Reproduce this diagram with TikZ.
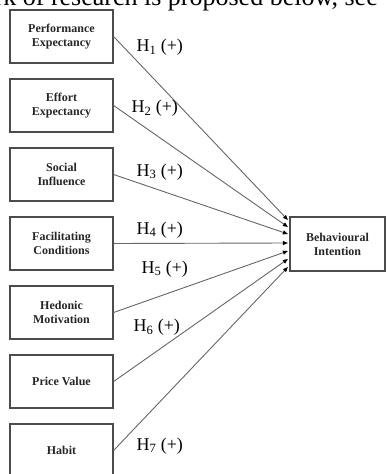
\documentclass[tikz,border=0pt]{standalone}
\usepackage{fontspec}
\setmainfont{Liberation Serif}
\usetikzlibrary{arrows.meta, calc}

\begin{document}
\begin{tikzpicture}[
    x=1pt, y=-1pt,
    construct/.style={draw=black!70, line width=1.2pt, minimum width=103pt, minimum height=53pt, inner sep=2pt, align=center, text=black!85, font=\bfseries\fontsize{12}{14}\selectfont},
    hyp/.style={anchor=base west, font=\fontsize{18}{20}\selectfont},
    arr/.style={-{Triangle[length=5pt, width=4pt, color=black]}, draw=black!60, line width=0.9pt}
]
\useasboundingbox (0,0) rectangle (386,474);
\clip (0,0) rectangle (386,474);

% Cut-off line of running text
\node[anchor=base east, font=\fontsize{26}{28}\selectfont, inner sep=0pt] (hdr) at (378,5) {framework of research is proposed below, see};

% Constructs (top to bottom)
\node[construct] (pe) at (61.5, 36.5) {Performance\\Expectancy};
\node[construct] (ee) at (61.5, 105.5) {Effort\\Expectancy};
\node[construct] (si) at (61.5, 174.5) {Social\\Influence};
\node[construct] (fc) at (61.5, 243.5) {Facilitating\\Conditions};
\node[construct] (hm) at (61.5, 312.5) {Hedonic\\Motivation};
\node[construct] (pv) at (61.5, 381.5) {Price Value};
\node[construct] (hb) at (61.5, 450.5) {Habit};

% Outcome
\node[construct, minimum width=95pt, minimum height=54pt] (bi) at (337.5, 244) {Behavioural\\Intention};

% Arrow tips along the left side of the outcome
\foreach \i/\dy in {1/-24, 2/-17, 3/-10, 4/-1, 5/7, 6/15, 7/23} {
    \coordinate (tip\i) at ($(bi.west)+(-1.5,\dy)$);
}

% Hypothesised paths
\foreach \src/\i in {pe/1, ee/2, si/3, fc/4, hm/5, pv/6, hb/7} {
    \draw[arr] (\src.east) -- (tip\i);
}

% Path labels
\node[hyp] (h1) at (133, 51.7) {H\textsubscript{1} (+)};
\node[hyp] (h2) at (128, 112.7) {H\textsubscript{2} (+)};
\node[hyp] (h3) at (133, 176) {H\textsubscript{3} (+)};
\node[hyp] (h4) at (133, 234) {H\textsubscript{4} (+)};
\node[hyp] (h5) at (138, 273) {H\textsubscript{5} (+)};
\node[hyp] (h6) at (130, 331.7) {H\textsubscript{6} (+)};
\node[hyp] (h7) at (133, 450) {H\textsubscript{7} (+)};

\end{tikzpicture}
\end{document}
